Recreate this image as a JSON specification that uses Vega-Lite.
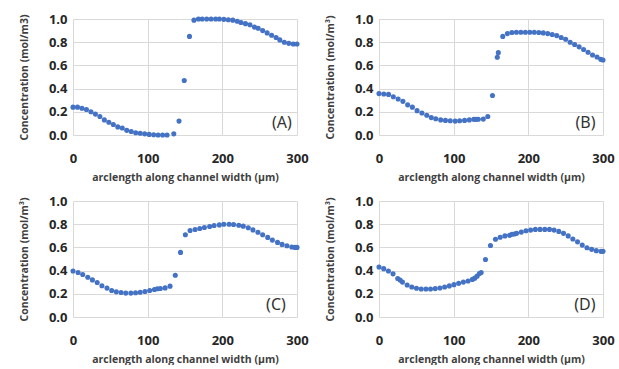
{
  "$schema": "https://vega.github.io/schema/vega-lite/v6.json",
  "padding": {"left": 19, "top": 13, "right": 2, "bottom": 0},
  "background": "white",
  "datasets": {
    "A": [
      {"x":0,"c":0.24},{"x":6,"c":0.24},{"x":12,"c":0.23},{"x":18,"c":0.22},{"x":24,"c":0.2},{"x":30,"c":0.18},{"x":36,"c":0.16},{"x":42,"c":0.13},{"x":48,"c":0.11},{"x":54,"c":0.09},{"x":60,"c":0.07},{"x":66,"c":0.06},{"x":72,"c":0.04},{"x":78,"c":0.03},{"x":84,"c":0.02},{"x":90,"c":0.015},{"x":96,"c":0.01},{"x":102,"c":0.005},{"x":108,"c":0.002},{"x":114,"c":0.0},{"x":120,"c":0.0},{"x":126,"c":0.0},{"x":135,"c":0.01},{"x":142,"c":0.12},{"x":149,"c":0.47},{"x":156,"c":0.85},{"x":162,"c":0.99},{"x":168,"c":1.0},{"x":173,"c":1.0},{"x":179,"c":1.0},{"x":185,"c":1.0},{"x":191,"c":1.0},{"x":196,"c":1.0},{"x":202,"c":0.997},{"x":208,"c":0.994},{"x":214,"c":0.99},{"x":220,"c":0.98},{"x":225,"c":0.97},{"x":231,"c":0.96},{"x":237,"c":0.95},{"x":243,"c":0.93},{"x":248,"c":0.92},{"x":254,"c":0.9},{"x":260,"c":0.88},{"x":266,"c":0.86},{"x":272,"c":0.84},{"x":277,"c":0.82},{"x":283,"c":0.8},{"x":289,"c":0.79},{"x":295,"c":0.785},{"x":300,"c":0.785}
    ],
    "B": [
      {"x":0,"c":0.357},{"x":6.4,"c":0.354},{"x":12.8,"c":0.35},{"x":19.2,"c":0.33},{"x":25.6,"c":0.31},{"x":32,"c":0.29},{"x":38.4,"c":0.26},{"x":44.7,"c":0.24},{"x":51,"c":0.21},{"x":57.5,"c":0.19},{"x":64,"c":0.17},{"x":70,"c":0.15},{"x":76,"c":0.14},{"x":82.6,"c":0.13},{"x":89,"c":0.126},{"x":95.4,"c":0.123},{"x":102,"c":0.12},{"x":108,"c":0.123},{"x":114.6,"c":0.126},{"x":121,"c":0.13},{"x":127,"c":0.135},{"x":130,"c":0.135},{"x":133,"c":0.136},{"x":139.7,"c":0.137},{"x":145.7,"c":0.16},{"x":152,"c":0.34},{"x":158.4,"c":0.67},{"x":159.8,"c":0.71},{"x":165.8,"c":0.85},{"x":172,"c":0.874},{"x":178,"c":0.883},{"x":184,"c":0.886},{"x":190,"c":0.886},{"x":196,"c":0.886},{"x":202,"c":0.886},{"x":208,"c":0.886},{"x":214,"c":0.883},{"x":220,"c":0.88},{"x":226,"c":0.874},{"x":232,"c":0.866},{"x":238,"c":0.857},{"x":244,"c":0.84},{"x":250,"c":0.825},{"x":256,"c":0.8},{"x":262,"c":0.78},{"x":268,"c":0.76},{"x":274,"c":0.737},{"x":280,"c":0.713},{"x":286,"c":0.69},{"x":292,"c":0.672},{"x":297,"c":0.652},{"x":300,"c":0.646}
    ],
    "C": [
      {"x":0,"c":0.397},{"x":6.8,"c":0.383},{"x":13,"c":0.366},{"x":19.8,"c":0.343},{"x":26,"c":0.32},{"x":32.4,"c":0.297},{"x":38.7,"c":0.27},{"x":45.5,"c":0.249},{"x":51.8,"c":0.229},{"x":58,"c":0.217},{"x":64.4,"c":0.211},{"x":70.7,"c":0.206},{"x":77.5,"c":0.206},{"x":83.8,"c":0.209},{"x":90,"c":0.214},{"x":96.4,"c":0.22},{"x":102.7,"c":0.229},{"x":109,"c":0.237},{"x":113,"c":0.243},{"x":117,"c":0.246},{"x":123.4,"c":0.251},{"x":130,"c":0.266},{"x":137,"c":0.36},{"x":144,"c":0.557},{"x":150.5,"c":0.709},{"x":156.8,"c":0.746},{"x":163.5,"c":0.754},{"x":169.8,"c":0.763},{"x":176,"c":0.771},{"x":183,"c":0.78},{"x":189,"c":0.789},{"x":196,"c":0.794},{"x":202,"c":0.8},{"x":209,"c":0.8},{"x":215,"c":0.797},{"x":222,"c":0.791},{"x":228,"c":0.783},{"x":234.7,"c":0.769},{"x":241,"c":0.751},{"x":247.7,"c":0.731},{"x":254,"c":0.709},{"x":260.8,"c":0.686},{"x":267,"c":0.663},{"x":273.9,"c":0.643},{"x":280,"c":0.626},{"x":286.5,"c":0.614},{"x":293,"c":0.603},{"x":297.3,"c":0.6},{"x":300,"c":0.6}
    ],
    "D": [
      {"x":0,"c":0.431},{"x":6.3,"c":0.417},{"x":12.6,"c":0.397},{"x":18.8,"c":0.372},{"x":25.1,"c":0.332},{"x":28.3,"c":0.318},{"x":31.4,"c":0.301},{"x":37.7,"c":0.276},{"x":43.9,"c":0.259},{"x":50.2,"c":0.248},{"x":56.5,"c":0.242},{"x":62.8,"c":0.242},{"x":69,"c":0.242},{"x":75.3,"c":0.245},{"x":81.6,"c":0.25},{"x":87.9,"c":0.259},{"x":94.2,"c":0.268},{"x":100.4,"c":0.279},{"x":106.7,"c":0.29},{"x":113,"c":0.301},{"x":119.3,"c":0.31},{"x":125.1,"c":0.324},{"x":128.3,"c":0.335},{"x":131.4,"c":0.352},{"x":134.5,"c":0.375},{"x":136.8,"c":0.383},{"x":142.6,"c":0.496},{"x":149.3,"c":0.617},{"x":156,"c":0.67},{"x":162.3,"c":0.687},{"x":168.6,"c":0.699},{"x":174.9,"c":0.704},{"x":178,"c":0.713},{"x":181.2,"c":0.715},{"x":184.3,"c":0.721},{"x":190.6,"c":0.732},{"x":196.9,"c":0.744},{"x":203.1,"c":0.749},{"x":209.4,"c":0.755},{"x":215.7,"c":0.755},{"x":222,"c":0.755},{"x":228.3,"c":0.755},{"x":234.5,"c":0.749},{"x":240.8,"c":0.738},{"x":247.1,"c":0.721},{"x":253.4,"c":0.699},{"x":259.6,"c":0.673},{"x":265.9,"c":0.648},{"x":272.2,"c":0.62},{"x":278.5,"c":0.597},{"x":284.8,"c":0.583},{"x":291,"c":0.572},{"x":297.3,"c":0.566},{"x":300,"c":0.566}
    ],
    "one": [{"n": 1}]
  },
  "columns": 2,
  "spacing": {"row": 12, "column": 16},
  "concat": [
    {
      "width": 224, "height": 116,
      "layer": [
        {"data": {"name": "A"},
         "mark": {"type": "point", "filled": true, "shape": "circle", "size": 26, "opacity": 1, "fill": "#4472C4", "strokeWidth": 0},
         "encoding": {
           "x": {"field": "x", "type": "quantitative", "scale": {"domain": [0, 300], "nice": false, "zero": false}, "axis": {"values": [0, 100, 200, 300], "title": "arclength along channel width (μm)"}},
           "y": {"field": "c", "type": "quantitative", "scale": {"domain": [0, 1], "nice": false}, "axis": {"values": [0, 0.2, 0.4, 0.6, 0.8, 1.0], "format": ".1f", "title": "Concentration (mol/m3)"}}
         }},
        {"data": {"name": "one"},
         "mark": {"type": "text", "text": "(A)", "align": "right", "baseline": "alphabetic", "fontSize": 16, "font": "Noto Sans", "fontWeight": "normal", "fill": "#333333"},
         "encoding": {
           "x": {"datum": 293, "type": "quantitative", "axis": {"values": [0, 100, 200, 300], "title": "arclength along channel width (μm)"}},
           "y": {"datum": 0.06, "type": "quantitative", "axis": {"values": [0, 0.2, 0.4, 0.6, 0.8, 1.0], "format": ".1f", "title": "Concentration (mol/m3)"}}
         }}
      ]
    },
    {
      "width": 224, "height": 116,
      "layer": [
        {"data": {"name": "B"},
         "mark": {"type": "point", "filled": true, "shape": "circle", "size": 26, "opacity": 1, "fill": "#4472C4", "strokeWidth": 0},
         "encoding": {
           "x": {"field": "x", "type": "quantitative", "scale": {"domain": [0, 300], "nice": false, "zero": false}, "axis": {"values": [0, 100, 200, 300], "title": "arclength along channel width (μm)"}},
           "y": {"field": "c", "type": "quantitative", "scale": {"domain": [0, 1], "nice": false}, "axis": {"values": [0, 0.2, 0.4, 0.6, 0.8, 1.0], "format": ".1f", "title": "Concentration (mol/m³)"}}
         }},
        {"data": {"name": "one"},
         "mark": {"type": "text", "text": "(B)", "align": "right", "baseline": "alphabetic", "fontSize": 16, "font": "Noto Sans", "fontWeight": "normal", "fill": "#333333"},
         "encoding": {
           "x": {"datum": 290, "type": "quantitative", "axis": {"values": [0, 100, 200, 300], "title": "arclength along channel width (μm)"}},
           "y": {"datum": 0.06, "type": "quantitative", "axis": {"values": [0, 0.2, 0.4, 0.6, 0.8, 1.0], "format": ".1f", "title": "Concentration (mol/m³)"}}
         }}
      ]
    },
    {
      "width": 224, "height": 116,
      "layer": [
        {"data": {"name": "C"},
         "mark": {"type": "point", "filled": true, "shape": "circle", "size": 26, "opacity": 1, "fill": "#4472C4", "strokeWidth": 0},
         "encoding": {
           "x": {"field": "x", "type": "quantitative", "scale": {"domain": [0, 300], "nice": false, "zero": false}, "axis": {"values": [0, 100, 200, 300], "title": "arclength along channel width (μm)"}},
           "y": {"field": "c", "type": "quantitative", "scale": {"domain": [0, 1], "nice": false}, "axis": {"values": [0, 0.2, 0.4, 0.6, 0.8, 1.0], "format": ".1f", "title": "Concentration (mol/m³)"}}
         }},
        {"data": {"name": "one"},
         "mark": {"type": "text", "text": "(C)", "align": "right", "baseline": "alphabetic", "fontSize": 16, "font": "Noto Sans", "fontWeight": "normal", "fill": "#333333"},
         "encoding": {
           "x": {"datum": 285, "type": "quantitative", "axis": {"values": [0, 100, 200, 300], "title": "arclength along channel width (μm)"}},
           "y": {"datum": 0.06, "type": "quantitative", "axis": {"values": [0, 0.2, 0.4, 0.6, 0.8, 1.0], "format": ".1f", "title": "Concentration (mol/m³)"}}
         }}
      ]
    },
    {
      "width": 224, "height": 116,
      "layer": [
        {"data": {"name": "D"},
         "mark": {"type": "point", "filled": true, "shape": "circle", "size": 26, "opacity": 1, "fill": "#4472C4", "strokeWidth": 0},
         "encoding": {
           "x": {"field": "x", "type": "quantitative", "scale": {"domain": [0, 300], "nice": false, "zero": false}, "axis": {"values": [0, 100, 200, 300], "title": "arclength along channel width (μm)"}},
           "y": {"field": "c", "type": "quantitative", "scale": {"domain": [0, 1], "nice": false}, "axis": {"values": [0, 0.2, 0.4, 0.6, 0.8, 1.0], "format": ".1f", "title": "Concentration (mol/m³)"}}
         }},
        {"data": {"name": "one"},
         "mark": {"type": "text", "text": "(D)", "align": "right", "baseline": "alphabetic", "fontSize": 16, "font": "Noto Sans", "fontWeight": "normal", "fill": "#333333"},
         "encoding": {
           "x": {"datum": 290, "type": "quantitative", "axis": {"values": [0, 100, 200, 300], "title": "arclength along channel width (μm)"}},
           "y": {"datum": 0.06, "type": "quantitative", "axis": {"values": [0, 0.2, 0.4, 0.6, 0.8, 1.0], "format": ".1f", "title": "Concentration (mol/m³)"}}
         }}
      ]
    }
  ],
  "config": {
    "view": {"stroke": null},
    "axis": {
      "grid": true, "gridColor": "#d9d9d9", "gridWidth": 1,
      "domain": false, "ticks": false,
      "labelOverlap": false, "labelFlush": false, "labelBound": false,
      "labelFont": "Open Sans", "labelFontWeight": "bold", "labelFontSize": 13, "labelColor": "#262626",
      "titleFont": "Open Sans", "titleFontWeight": "bold", "titleFontSize": 10.5, "titleColor": "#404040"
    },
    "axisX": {"labelPadding": 17, "titlePadding": 7},
    "axisY": {"labelPadding": 6, "titlePadding": 19}
  }
}
